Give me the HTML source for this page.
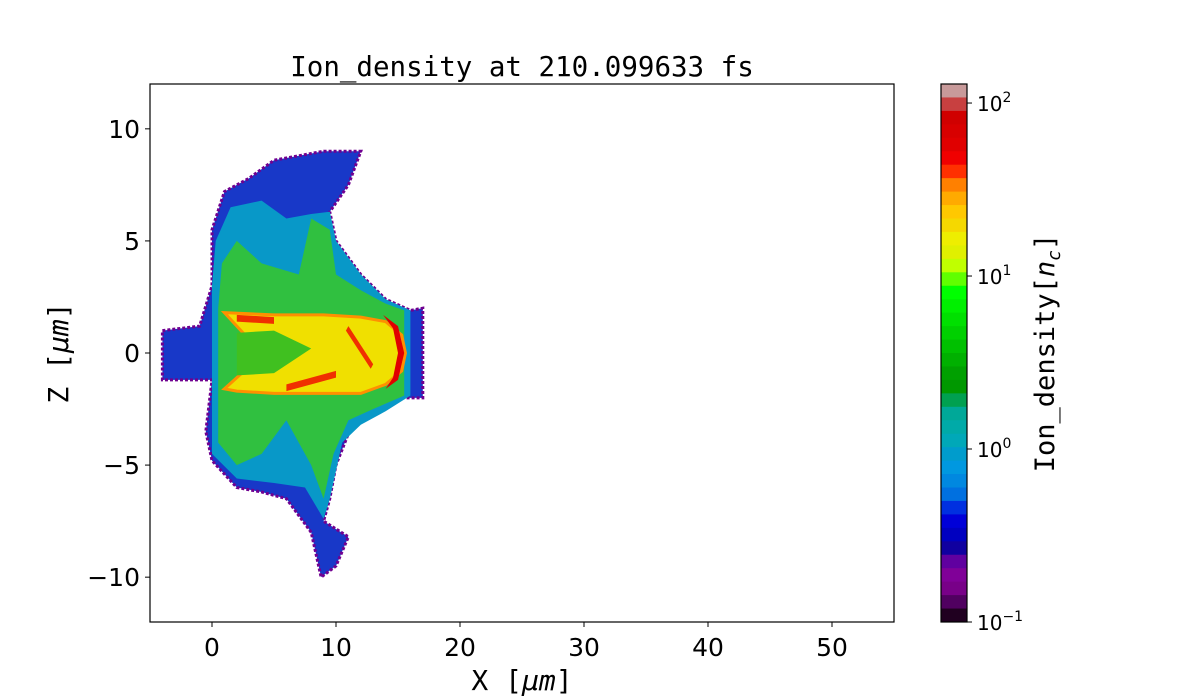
<!DOCTYPE html>
<html><head><meta charset="utf-8"><style>
body{margin:0;background:#fff;width:1200px;height:700px;overflow:hidden}
svg{display:block}
.tk{font-family:"DejaVu Sans","Liberation Sans",sans-serif;font-size:25px;fill:#000}
.mono{font-family:"DejaVu Sans Mono","Liberation Mono",monospace;fill:#000}
</style></head><body>
<svg id="fig" width="1200" height="700" xmlns="http://www.w3.org/2000/svg">
<text class="mono" x="522" y="76" font-size="27.5" text-anchor="middle">Ion_density at 210.099633 fs</text>
<g id="plot"></g>
<g id="axes"></g>
<g id="cbar"></g>
<text class="mono" x="522" y="690" font-size="28" text-anchor="middle">X [<tspan font-style="italic">μm</tspan>]</text>
<text class="mono" transform="translate(68,353) rotate(-90)" font-size="28" text-anchor="middle">Z [<tspan font-style="italic">μm</tspan>]</text>
<text class="mono" transform="translate(1054,353) rotate(-90)" font-size="27" text-anchor="middle">Ion_density[<tspan font-style="italic">n</tspan><tspan font-style="italic" font-size="18" dy="6">c</tspan><tspan dy="-6">]</tspan></text>
</svg>
<script>
const xTicks=[0,10,20,30,40,50];
const zTicks=[10,5,0,-5,-10];
const cTicks=[-1,0,1,2];
const bandColors=["#c89a9a","#c84040","#d00000","#d80000","#e00000","#f00000","#ff3000","#ff8000","#ffaa00","#ffc800","#f5d800","#eeee00","#e0f000","#c0ff00","#60ff00","#00ff00","#00f000","#00e000","#00d000","#00c000","#00b000","#00a000","#009800","#00a050","#00a898","#00aaa8","#00a8b8","#009ccc","#0098e0","#0088e0","#0070e0","#0030e0","#0000d8","#0000c0","#1000a0","#6000a0","#800098","#780088","#500060","#200020"];
// regions in data units [x um, z um]
const envelopeRegion=[[-4,1],[-1,1.2],[0,3],[0,5.5],[1,7.2],[3,7.8],[5,8.6],[7,8.8],[9,9],[12,9],[11,7.5],[9.5,6.3],[10,5],[12,3.5],[14,2.4],[16,1.9],[17,2],[17,-2],[15,-2],[13,-2.6],[11,-3.6],[10,-5],[9.5,-6.5],[9,-7.5],[11,-8.2],[10,-9.5],[8.8,-10],[8,-8],[6,-6.5],[4,-6.2],[2,-6],[0,-4.8],[-0.5,-3.5],[0,-1.2],[-4,-1.2]];
const cyanRegion=[[0,3],[0.3,5],[1.5,6.5],[4,6.8],[6,6],[8,6.2],[9.5,6.3],[10,5],[12,3.5],[14,2.4],[16,1.9],[16,-1.9],[14,-2.6],[12,-3.2],[10.5,-4],[9.5,-6.5],[9,-7.4],[7.5,-6],[5,-5.8],[2,-5.6],[0,-4.5],[0,-1.8],[0,1.8]];
const greenRegion=[[0.5,2],[0.8,4],[2,5],[4,4],[7,3.5],[8,6],[9.5,5.5],[10,3.5],[12,2.8],[14,2.2],[15.5,1.9],[15.5,-1.9],[13,-2.5],[11,-3],[9.8,-4.5],[9,-6.5],[8,-5],[6,-3],[4,-4.5],[2,-5],[0.5,-4],[0.5,-2]];
const yellowRegion=[[1,1.8],[5,1.7],[9,1.7],[12,1.6],[14,1.4],[15.3,0.8],[15.6,0],[15.3,-0.8],[14,-1.4],[12,-1.8],[9,-1.8],[5,-1.8],[2,-1.7],[1,-1.6],[3,-0.6],[7,0],[3,0.6]];
const greenCore=[[2,0.9],[5,1],[8,0.2],[5,-0.9],[2,-1]];
const redArc=[[13.8,1.7],[15,1.2],[15.5,0],[15,-1.2],[14,-1.6],[14.6,-1.1],[15,0],[14.6,1.1]];
const redStreaks=[[[2,1.7],[5,1.6],[5,1.3],[2,1.4]],[[6,-1.4],[10,-0.8],[10,-1.1],[6,-1.7]],[[11,1.2],[13,-0.5],[12.8,-0.7],[10.8,1]]];

const X0=150,X1=894,Y0=84,Y1=622,xmin=-5,xmax=55,zmin=-12,zmax=12;
const sx=x=>X0+(x-xmin)/(xmax-xmin)*(X1-X0);
const sy=z=>Y1-(z-zmin)/(zmax-zmin)*(Y1-Y0);
const NS="http://www.w3.org/2000/svg";
function mk(t,a,p){const e=document.createElementNS(NS,t);for(const k in a)e.setAttribute(k,a[k]);p.appendChild(e);return e;}
const plot=document.getElementById('plot'),axes=document.getElementById('axes'),cb=document.getElementById('cbar');
function poly(pts,fill,name,extra){
  const e=mk('polygon',Object.assign({points:pts.map(p=>sx(p[0])+','+sy(p[1])).join(' '),fill:fill},extra||{}),plot);
  
  
}
poly(envelopeRegion,"#1838c8","density-envelope",{stroke:"#700090","stroke-width":"3","stroke-dasharray":"3 2"});
poly(cyanRegion,"#0898c8","density-cyan-region");
poly(greenRegion,"#30c040","density-green-region");
poly(yellowRegion,"#f0e000","density-yellow-core",{stroke:"#ff9000","stroke-width":"3"});
poly(greenCore,"#40c020","density-green-core");
poly(redArc,"#e00000","density-red-front");
redStreaks.forEach(s=>poly(s,"#f03000","density-red-streak"));

const frame=mk('rect',{x:X0,y:Y0,width:X1-X0,height:Y1-Y0,fill:"none",stroke:"#000","stroke-width":1.2},axes);


xTicks.forEach(v=>{
  mk('line',{x1:sx(v),x2:sx(v),y1:Y1,y2:Y1+5,stroke:"#000"},axes);
  const t=mk('text',{x:sx(v),y:Y1+34,class:"tk","text-anchor":"middle"},axes);t.textContent=v;
  
  
});
zTicks.forEach(v=>{
  mk('line',{x1:X0-5,x2:X0,y1:sy(v),y2:sy(v),stroke:"#000"},axes);
  const t=mk('text',{x:X0-10,y:sy(v)+9,class:"tk","text-anchor":"end"},axes);t.textContent=v<0?'\u2212'+(-v):v;
  
  
});
// colorbar
const CX=941,CW=26,cmin=-1,cmax=2.11;
const cy=v=>Y1-(v-cmin)/(cmax-cmin)*(Y1-Y0);
const bh=(Y1-Y0)/bandColors.length;
bandColors.forEach((c,i)=>{
  const r=mk('rect',{x:CX,y:Y0+i*bh,width:CW,height:bh+0.5,fill:c},cb);
  
  
});
mk('rect',{x:CX,y:Y0,width:CW,height:Y1-Y0,fill:"none",stroke:"#000","stroke-width":1.2},cb);
cTicks.forEach(v=>{
  mk('line',{x1:CX+CW,x2:CX+CW+5,y1:cy(v),y2:cy(v),stroke:"#000"},cb);
  const t=mk('text',{x:CX+CW+10,y:cy(v)+8,class:"tk","font-size":"20"},cb);
  t.style.fontSize="20px";
  t.innerHTML='10<tspan font-size="14" dy="-9">'+(v<0?'\u2212'+(-v):v)+'</tspan>';
  
  
});
</script>
</body></html>
